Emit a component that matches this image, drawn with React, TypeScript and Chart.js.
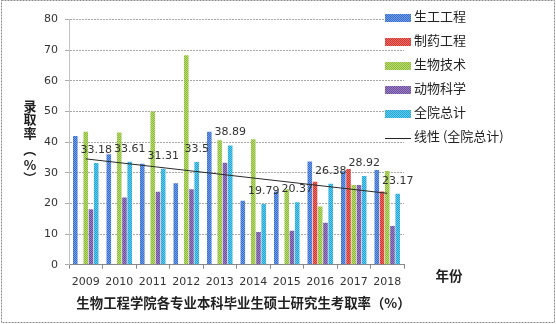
import { useEffect, useRef } from 'react';
import { Chart, registerables } from 'chart.js';

Chart.register(...registerables);

const years = ['2009', '2010', '2011', '2012', '2013', '2014', '2015', '2016', '2017', '2018'];
const shengGong = [42.0, 36.0, 32.9, 26.6, 43.4, 20.9, 23.9, 33.7, 30.5, 30.9];
const zhiYao = [null, null, null, null, null, null, null, 27.1, 31.2, 23.9];
const shengJi = [43.4, 43.1, 50.0, 68.3, 40.6, 40.9, 24.6, 19.0, 26.0, 30.6];
const dongKe = [18.1, 21.9, 23.8, 24.6, 33.3, 10.7, 11.1, 13.7, 26.0, 12.6];
const quanYuan = [33.18, 33.61, 31.31, 33.5, 38.89, 19.79, 20.37, 26.38, 28.92, 23.17];
const trend = [34.53, null, null, null, null, null, null, null, null, 23.29];
const seriesNames = ['生工工程', '制药工程', '生物技术', '动物科学', '全院总计'];
const trendName = '线性 (全院总计)';
const yTitleChars = ['录', '取', '率', '（', '%', '）'];
const xTitle = '生物工程学院各专业本科毕业生硕士研究生考取率（%）';
const xUnit = '年份';

const palette: [string, string][] = [
  ['#3a6cc9', '#6e9ee8'],
  ['#cf3632', '#ea6e66'],
  ['#8cba3c', '#badb6e'],
  ['#6c509e', '#9c80c6'],
  ['#22a6d5', '#62caeb'],
];

function makePattern(a: string, b: string): CanvasPattern | string {
  const c = document.createElement('canvas');
  c.width = 2;
  c.height = 2;
  const g = c.getContext('2d');
  if (!g) return a;
  g.fillStyle = a;
  g.fillRect(0, 0, 2, 2);
  g.fillStyle = b;
  g.fillRect(1, 0, 1, 1);
  g.fillRect(0, 1, 1, 1);
  const p = g.createPattern(c, 'repeat');
  return p || a;
}

export default function App() {
  const ref = useRef<HTMLCanvasElement | null>(null);

  useEffect(() => {
    if (!ref.current) return;
    const fills = palette.map(([a, b]) => makePattern(a, b));
    const seriesData = [shengGong, zhiYao, shengJi, dongKe, quanYuan];

    const decor = {
      id: 'decor',
      afterDatasetsDraw(chart: any) {
        const ctx = chart.ctx;
        const meta = chart.getDatasetMeta(4);
        ctx.save();
        ctx.font = '11px "DejaVu Sans"';
        ctx.fillStyle = '#333';
        ctx.textAlign = 'center';
        ctx.textBaseline = 'middle';
        meta.data.forEach((el: any, i: number) => {
          ctx.fillText(String(quanYuan[i]), el.x, el.y - 13);
        });
        ctx.restore();
      },
      afterDraw(chart: any) {
        const ctx = chart.ctx;
        const area = chart.chartArea;
        ctx.save();
        // legend
        const lx = area.right - 19;
        ctx.font = '13px "Noto Sans CJK SC"';
        ctx.textBaseline = 'middle';
        ctx.textAlign = 'left';
        seriesNames.forEach((name, i) => {
          const cy = 18 + i * 24;
          ctx.fillStyle = fills[i] as any;
          ctx.fillRect(lx, cy - 4, 26, 8);
          ctx.fillStyle = '#222';
          ctx.fillText(name, lx + 29, cy - 1.5);
        });
        const ly = 18 + 5 * 24;
        ctx.strokeStyle = '#222';
        ctx.lineWidth = 1;
        ctx.beginPath();
        ctx.moveTo(lx, ly + 0.5);
        ctx.lineTo(lx + 26, ly + 0.5);
        ctx.stroke();
        ctx.fillStyle = '#222';
        ctx.fillText(trendName, lx + 29, ly - 1.5);

        // y title stacked (parentheses turned to vertical form)
        ctx.font = 'bold 13px "Noto Sans CJK SC"';
        ctx.textAlign = 'center';
        const yOffsets = [106, 119.5, 133, 150, 165, 178];
        yTitleChars.forEach((ch, i) => {
          if (ch === '（' || ch === '）') {
            ctx.save();
            ctx.translate(30, yOffsets[i]);
            ctx.rotate(Math.PI / 2);
            ctx.fillText(ch, 0, 0);
            ctx.restore();
          } else {
            ctx.fillText(ch, 30, yOffsets[i]);
          }
        });

        // x title
        ctx.font = 'bold 13.4px "Noto Sans CJK SC"';
        ctx.fillText(xTitle, 243.5, 303);
        ctx.font = 'bold 13.5px "Noto Sans CJK SC"';
        ctx.fillText(xUnit, 449, 276);

        // outer border
        ctx.strokeStyle = '#8a8a8a';
        ctx.setLineDash([2, 1]);
        ctx.strokeRect(1.5, 0.5, 553, 322);
        ctx.restore();
      },
    };

    const chart = new Chart(ref.current, {
      type: 'bar',
      data: {
        labels: years,
        datasets: [
          ...seriesData.map((d, i) => ({
            type: 'bar' as const,
            label: seriesNames[i],
            data: d,
            backgroundColor: fills[i] as any,
            borderWidth: 0,
            categoryPercentage: 0.78,
            barPercentage: 0.88,
            order: 1,
          })),
          {
            type: 'line' as const,
            label: trendName,
            data: trend,
            borderColor: '#2a2a2a',
            borderWidth: 1,
            pointRadius: 0,
            spanGaps: true,
            fill: false,
            order: 0,
          },
        ],
      } as any,
      options: {
        responsive: false,
        animation: false,
        layout: { padding: { left: 0, right: 152, top: 19.5, bottom: 0 } },
        plugins: {
          legend: { display: false },
          tooltip: { enabled: false },
        },
        scales: {
          x: {
            offset: true,
            grid: {
              offset: true,
              drawOnChartArea: false,
              drawTicks: true,
              tickLength: 4,
              tickColor: '#888',
            },
            border: { display: true, color: '#888', width: 1 },
            ticks: {
              color: '#333',
              font: { family: 'DejaVu Sans', size: 11 },
              padding: 7,
              maxRotation: 0,
              autoSkip: false,
            },
            afterFit(scale: any) {
              scale.height = 59.3;
            },
          },
          y: {
            min: 0,
            max: 80,
            ticks: {
              stepSize: 10,
              color: '#333',
              font: { family: 'DejaVu Sans', size: 11 },
              padding: 7,
            },
            grid: {
              color: '#a8a8a8',
              drawTicks: true,
              tickLength: 4,
              tickColor: '#aaa',
            },
            border: { display: true, color: '#c4c4c4', dash: [2, 1] },
            afterFit(scale: any) {
              scale.width = 69;
            },
          },
        },
      } as any,
      plugins: [decor],
    });
    return () => chart.destroy();
  }, []);

  return (
    <div style={{ position: 'absolute', left: 0, top: 0, width: 556, height: 324, background: '#fff' }}>
      <canvas ref={ref} width={556} height={324} style={{ display: 'block' }} />
    </div>
  );
}
